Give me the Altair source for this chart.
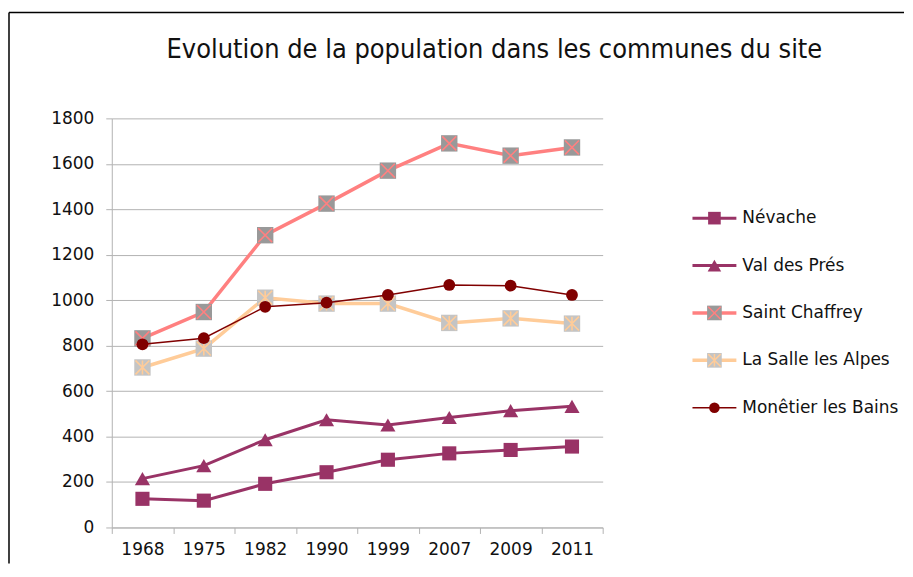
import altair as alt
import pandas as pd

years = ["1968", "1975", "1982", "1990", "1999", "2007", "2009", "2011"]
communes = ["Névache", "Val des Prés", "Saint Chaffrey", "La Salle les Alpes", "Monêtier les Bains"]
nevache = [126, 118, 192, 243, 298, 326, 341, 356]
val_des_pres = [215, 272, 386, 474, 451, 484, 514, 533]
saint_chaffrey = [832, 948, 1286, 1425, 1570, 1690, 1636, 1672]
la_salle = [704, 787, 1011, 985, 985, 900, 920, 897]
monetier = [806, 833, 971, 989, 1023, 1067, 1064, 1023]
y_ticks = [0, 200, 400, 600, 800, 1000, 1200, 1400, 1600, 1800]
title_text = "Evolution de la population dans les communes du site"

series = dict(zip(communes, [nevache, val_des_pres, saint_chaffrey, la_salle, monetier]))

X_PATH = "M-1,-1L1,1M-1,1L1,-1"
STAR_PATH = "M0,-1L0,1M-1,-1L1,1M-1,1L1,-1"
styles = {
    "Névache": dict(line="#993366", w=3, shape="square", fill="#993366", size=200, over=None),
    "Val des Prés": dict(line="#993366", w=3, shape="triangle-up", fill="#993366", size=230, over=None),
    "Saint Chaffrey": dict(line="#FF8080", w=3.5, shape="square", fill="#999999", size=270,
                           over=X_PATH, overcolor="#FF8080"),
    "La Salle les Alpes": dict(line="#FFCC99", w=3.5, shape="square", fill="#C4C4C4", size=270,
                               over=STAR_PATH, overcolor="#FFCC99"),
    "Monêtier les Bains": dict(line="#800000", w=1.5, shape="circle", fill="#800000", size=140, over=None),
}

FONT = "DejaVu Sans"
GRID = "#b3b3b3"

x_enc = alt.X(
    "annee:O", sort=years,
    scale=alt.Scale(type="band", paddingInner=0, paddingOuter=0),
    bandPosition=0.5,
    axis=alt.Axis(title=None, labelAngle=0, tickBand="extent", grid=False,
                  domainColor=GRID, tickColor=GRID, tickSize=6, labelPadding=8,
                  labelFont=FONT, labelFontSize=17, labelColor="#111111"),
)
y_enc = alt.Y(
    "pop:Q", scale=alt.Scale(domain=[0, 1800]),
    axis=alt.Axis(title=None, values=y_ticks, format="d", grid=True, gridColor=GRID, gridWidth=1,
                  domainColor=GRID, tickColor=GRID, tickSize=6, labelPadding=12,
                  labelFont=FONT, labelFontSize=17, labelColor="#111111"),
)

layers = []
for name in communes:
    st = styles[name]
    df = pd.DataFrame({"annee": years, "pop": series[name], "commune": name})
    base = alt.Chart(df).encode(x=x_enc, y=y_enc)
    layers.append(base.mark_line(color=st["line"], strokeWidth=st["w"]))
    layers.append(base.mark_point(shape=st["shape"], filled=True, fill=st["fill"],
                                  opacity=1, size=st["size"], strokeWidth=0))
    if st["over"]:
        layers.append(base.mark_point(shape=st["over"], filled=False, stroke=st["overcolor"],
                                      strokeWidth=1.6, opacity=1, size=st["size"] * 0.72))

frame_df = pd.DataFrame({"k": [0]})
frame_left = alt.Chart(frame_df).mark_rule(color="black", strokeWidth=1.5).encode(
    x=alt.value(-103), y=alt.value(-106), y2=alt.value(446))
frame_top = alt.Chart(frame_df).mark_rule(color="black", strokeWidth=1.5).encode(
    x=alt.value(-103), x2=alt.value(794), y=alt.value(-106))

main = alt.layer(*layers, frame_left, frame_top).properties(width=492, height=410)

# legend panel
leg_y = alt.Y("commune:N", sort=communes,
              scale=alt.Scale(type="point", range=[100, 290], padding=0), axis=None)
leg_layers = []
for name in communes:
    st = styles[name]
    ldf = pd.DataFrame({"commune": [name]})
    lb = alt.Chart(ldf).encode(y=leg_y)
    leg_layers.append(lb.mark_rule(color=st["line"], strokeWidth=st["w"]).encode(
        x=alt.value(0), x2=alt.value(44)))
    leg_layers.append(lb.mark_point(shape=st["shape"], filled=True, fill=st["fill"], opacity=1,
                                    size=st["size"] * 0.8, strokeWidth=0).encode(x=alt.value(22)))
    if st["over"]:
        leg_layers.append(lb.mark_point(shape=st["over"], filled=False, stroke=st["overcolor"],
                                        strokeWidth=1.5, opacity=1,
                                        size=st["size"] * 0.8 * 0.72).encode(x=alt.value(22)))
    leg_layers.append(lb.mark_text(align="left", baseline="middle", font=FONT, fontSize=17,
                                   color="#111111").encode(x=alt.value(50), text="commune:N"))

legend = alt.layer(*leg_layers).properties(width=200, height=390)

chart = alt.hconcat(main, legend, spacing=90, bounds="flush").properties(
    title=alt.TitleParams(title_text, anchor="middle", font="DejaVu Sans Condensed",
                          fontSize=27, fontWeight="normal", color="#111111",
                          offset=-52, dx=38),
    padding={"left": 0, "top": 3, "right": 0, "bottom": 0},
).configure_view(stroke=None)

chart.save("out.html", embed_options={"renderer": "svg", "actions": False})
